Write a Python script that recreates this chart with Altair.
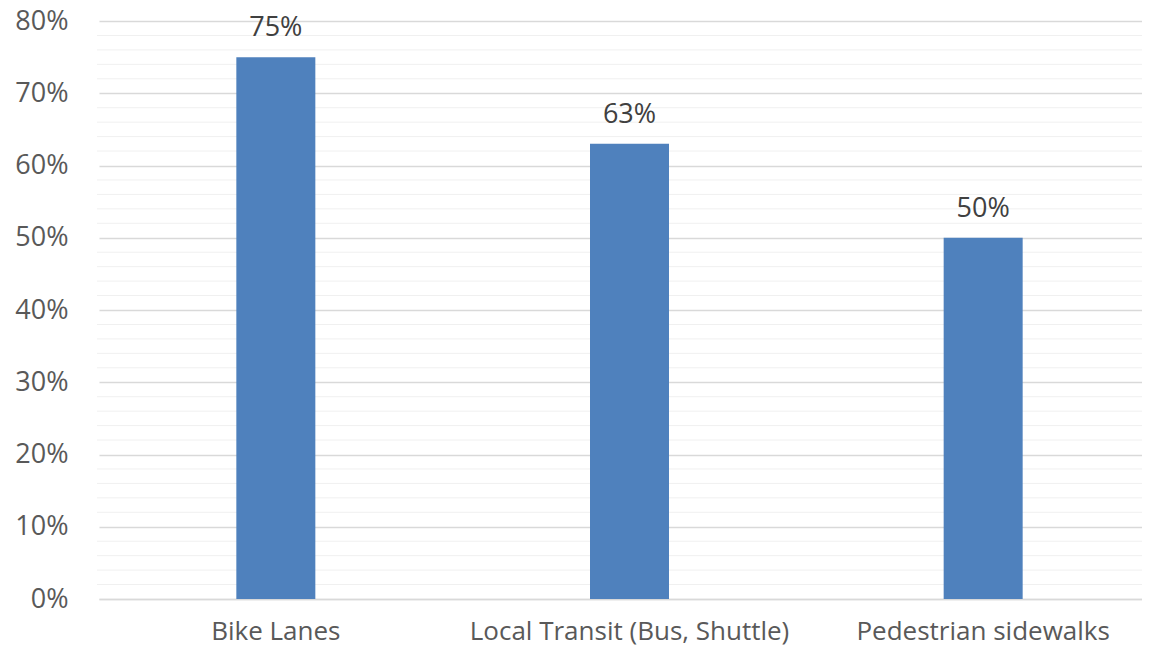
import altair as alt
import pandas as pd

categories = ["Bike Lanes", "Local Transit (Bus, Shuttle)", "Pedestrian sidewalks"]
values = [0.75, 0.63, 0.50]
labels = ["75%", "63%", "50%"]
major_ticks = [0, 0.1, 0.2, 0.3, 0.4, 0.5, 0.6, 0.7, 0.8]
minor_ticks = [v / 100 for v in range(2, 80, 2) if v % 10 != 0]

df = pd.DataFrame({"cat": categories, "val": values, "lab": labels})
minor_df = pd.DataFrame({"y": minor_ticks})

FONT = "Open Sans"
ysc = alt.Scale(domain=[0, 0.8], nice=False)
xsc = alt.Scale(paddingInner=0, paddingOuter=0, range=[2, 1063])

y_axis = alt.Axis(values=major_ticks, format=".0%", labelFont=FONT,
                  labelFontSize=27, labelColor="#595959", ticks=False,
                  domain=False, grid=True, gridColor="#d9d9d9",
                  gridWidth=1.5, labelPadding=29)
x_axis = alt.Axis(labelAngle=0, labelFont=FONT, labelFontSize=26,
                  labelColor="#595959", ticks=False, domain=True, grid=False,
                  domainColor="#d9d9d9", domainWidth=1.5, labelPadding=19,
                  labelLimit=500)

minor = alt.Chart(minor_df).mark_rule(color="#f0f0f0", strokeWidth=1).encode(
    y=alt.Y("y:Q", scale=ysc, axis=y_axis, title=None)
)

base = alt.Chart(df)
bars = base.mark_bar(size=79, color="#4f81bd").encode(
    x=alt.X("cat:N", sort=categories, title=None, axis=x_axis, scale=xsc),
    y=alt.Y("val:Q", scale=ysc, title=None, axis=y_axis),
)
text = base.mark_text(font=FONT, fontSize=27, color="#404040", baseline="alphabetic",
                      dy=-21).encode(
    x=alt.X("cat:N", sort=categories, title=None, axis=x_axis, scale=xsc),
    y=alt.Y("val:Q", scale=ysc, title=None, axis=y_axis),
    text="lab:N",
)

chart = (minor + bars + text).properties(
    width=1045, height=578,
    background="white",
    autosize=alt.AutoSizeParams(type="none"),
    padding={"left": 89, "top": 13, "right": 0, "bottom": 48},
).configure_view(stroke="transparent", strokeWidth=0)

chart.save("out.html", embed_options={"renderer": "svg", "actions": False})
